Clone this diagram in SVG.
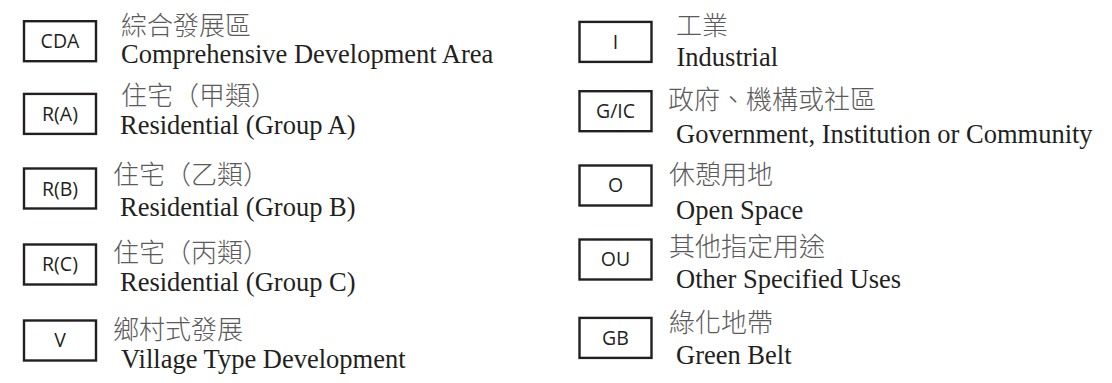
<svg xmlns="http://www.w3.org/2000/svg" width="1112" height="383" viewBox="0 0 1112 383">
  <style>
    .box { fill: #ffffff; stroke: #231f20; stroke-width: 2.4; }
    .code { font-family: "Open Sans", "Noto Sans", "DejaVu Sans", sans-serif; font-size: 19.5px; fill: #231f20; text-anchor: middle; }
    .zh { font-family: "Noto Sans CJK TC", "Noto Sans CJK SC", sans-serif; font-size: 26px; fill: #5a5a5a; font-weight: 300; }
    .en { font-family: "Liberation Serif", "Times New Roman", serif; font-size: 26.5px; fill: #231f20; }
  </style>
  <rect width="1112" height="383" fill="#ffffff"/>
  <g id="connectors"/>

  <g id="node-cda">
    <rect class="box" x="24" y="21.2" width="72" height="40"/>
    <text class="code" x="60" y="48">CDA</text>
    <text class="zh" x="121" y="35">綜合發展區</text>
    <text class="en" x="121" y="62.5">Comprehensive Development Area</text>
  </g>
  <g id="node-ra">
    <rect class="box" x="24" y="93.9" width="72" height="40"/>
    <text class="code" x="60" y="120.8">R(A)</text>
    <text class="zh" x="121" y="105">住宅（甲類）</text>
    <text class="en" x="120" y="133.5">Residential (Group A)</text>
  </g>
  <g id="node-rb">
    <rect class="box" x="24" y="168.5" width="72" height="40"/>
    <text class="code" x="60" y="195.5">R(B)</text>
    <text class="zh" x="113" y="184">住宅（乙類）</text>
    <text class="en" x="120" y="215.5">Residential (Group B)</text>
  </g>
  <g id="node-rc">
    <rect class="box" x="24" y="244.5" width="72" height="40"/>
    <text class="code" x="60" y="271.4">R(C)</text>
    <text class="zh" x="113" y="261.5">住宅（丙類）</text>
    <text class="en" x="120" y="290.7">Residential (Group C)</text>
  </g>
  <g id="node-v">
    <rect class="box" x="24" y="320.5" width="72" height="40"/>
    <text class="code" x="60" y="347.4">V</text>
    <text class="zh" x="113" y="339">鄉村式發展</text>
    <text class="en" x="121" y="368.3">Village Type Development</text>
  </g>

  <g id="node-i">
    <rect class="box" x="579.5" y="21.9" width="72" height="40"/>
    <text class="code" x="615.5" y="48.8">I</text>
    <text class="zh" x="676" y="35">工業</text>
    <text class="en" x="676.5" y="66">Industrial</text>
  </g>
  <g id="node-gic">
    <rect class="box" x="579.5" y="91.2" width="72" height="40"/>
    <text class="code" x="615.5" y="118.1">G/IC</text>
    <text class="zh" x="668" y="109">政府、機構或社區</text>
    <text class="en" x="676" y="143.3">Government, Institution or Community</text>
  </g>
  <g id="node-o">
    <rect class="box" x="579.5" y="165.5" width="72" height="40"/>
    <text class="code" x="615.5" y="192.4">O</text>
    <text class="zh" x="669" y="183.5">休憩用地</text>
    <text class="en" x="676" y="219">Open Space</text>
  </g>
  <g id="node-ou">
    <rect class="box" x="579.5" y="239.5" width="72" height="40"/>
    <text class="code" x="615.5" y="266.4">OU</text>
    <text class="zh" x="669" y="256">其他指定用途</text>
    <text class="en" x="676" y="288.3">Other Specified Uses</text>
  </g>
  <g id="node-gb">
    <rect class="box" x="579.5" y="317.9" width="72" height="40"/>
    <text class="code" x="615.5" y="344.8">GB</text>
    <text class="zh" x="669" y="332">綠化地帶</text>
    <text class="en" x="676" y="364.3">Green Belt</text>
  </g>
</svg>
